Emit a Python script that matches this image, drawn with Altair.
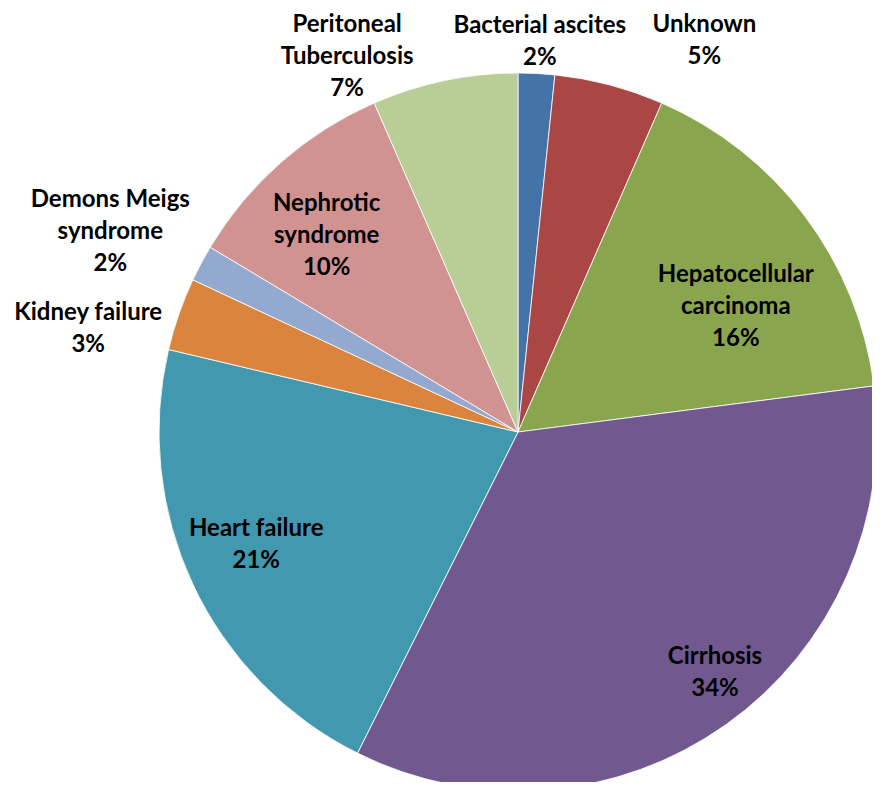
import altair as alt
import pandas as pd

categories = ["Bacterial ascites", "Unknown", "Hepatocellular carcinoma", "Cirrhosis",
              "Heart failure", "Kidney failure", "Demons Meigs syndrome",
              "Nephrotic syndrome", "Peritoneal Tuberculosis"]
counts = [1, 3, 10, 21, 13, 2, 1, 6, 4]
label_text = ["Bacterial ascites", "Unknown", "Hepatocellular\ncarcinoma", "Cirrhosis",
              "Heart failure", "Kidney failure", "Demons Meigs\nsyndrome",
              "Nephrotic\nsyndrome", "Peritoneal\nTuberculosis"]
colors = ["#4572A7", "#AA4643", "#89A54E", "#71588F", "#4198AF",
          "#DB843D", "#93A9CF", "#D19392", "#B9CD96"]

# label placement (angle clockwise from 12 o'clock in degrees, distance from centre in px)
label_angle = [3.2, 25.5, 60.2, 140.7, 246.7, 283.5, 296.1, 315.7, 335.5]
label_dist = [391, 433, 251, 311, 285, 442, 454, 274, 412]

LH = 32
total = sum(counts)
labels_full = [f"{t}\n{round(c / total * 100)}%" for t, c in zip(label_text, counts)]
df = pd.DataFrame({
    "cat": categories,
    "count": counts,
    "idx": list(range(len(categories))),
    "label": labels_full,
    "nl": [s.count("\n") + 1 for s in labels_full],
    "la": label_angle,
    "ld": label_dist,
})

CX, CY, R = 510, 424, 359

pie = alt.Chart(df).mark_arc(radius=R, stroke="white", strokeWidth=0.8).encode(
    theta=alt.Theta("count:Q", stack=True),
    order=alt.Order("idx:Q"),
    color=alt.Color("cat:N", scale=alt.Scale(domain=categories, range=colors), legend=None),
    x=alt.value(CX),
    y=alt.value(CY),
)

labels = alt.Chart(df).transform_calculate(
    lx=f"{CX} + datum.ld * sin(datum.la * PI / 180)",
    ly=f"{CY} - datum.ld * cos(datum.la * PI / 180) - (datum.nl - 1) * {LH} / 2",
).mark_text(
    font="Lato", fontSize=24, fontWeight="bold", color="#000000",
    lineBreak="\n", lineHeight=LH, align="center", baseline="middle",
).encode(
    x=alt.X("lx:Q", scale=None),
    y=alt.Y("ly:Q", scale=None),
    text="label:N",
)

chart = alt.layer(pie, labels).properties(
    width=864, height=774, padding=0,
    autosize=alt.AutoSizeParams(type="none"),
).configure_view(stroke=None)

chart.save("out.html", embed_options={"renderer": "svg", "actions": False})
